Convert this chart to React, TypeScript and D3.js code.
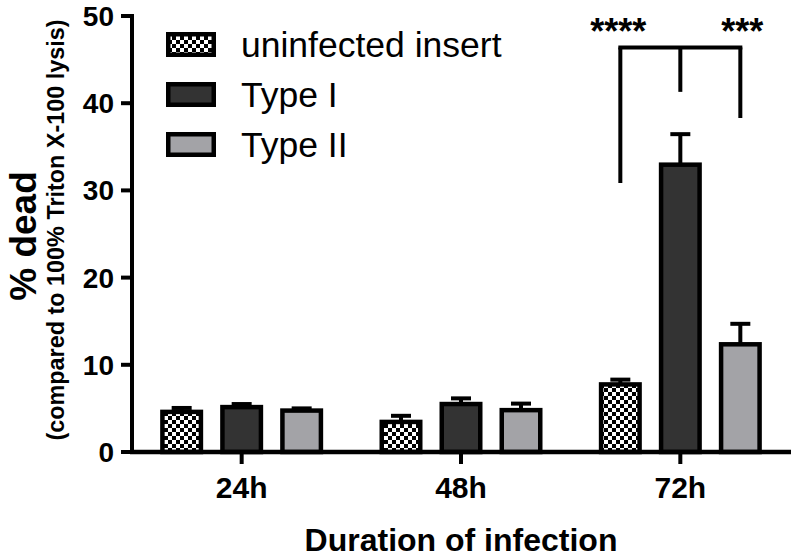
import React from "react";
import * as d3 from "d3";

const groups = ["24h", "48h", "72h"];
const seriesNames = ["uninfected insert", "Type I", "Type II"];
const uninfectedMeans = [4.6, 3.45, 7.75];
const uninfectedErr = [0.45, 0.7, 0.55];
const typeIMeans = [5.15, 5.5, 32.95];
const typeIErr = [0.35, 0.65, 3.5];
const typeIIMeans = [4.75, 4.8, 12.35];
const typeIIErr = [0.25, 0.75, 2.35];
const yTicks = [0, 10, 20, 30, 40, 50];

// significance bracket (72h): top level and end levels for each arm, plus stars
const bracketGroup = "72h";
const bracketTop = 46.4;
const bracketEnds = [30.85, 41.3, 38.3];
const starLabels = ["****", "***"];

const W = 793;
const H = 559;
const FONT = "'Liberation Sans', Arial, Helvetica, sans-serif";

export default function App() {
  const y = d3.scaleLinear().domain([0, 50]).range([452, 16]);
  const x0 = d3.scaleBand<string>().domain(groups).range([132, 790]).padding(0);
  const x1 = d3.scaleBand<string>().domain(seriesNames).range([-90, 90]).padding(0);

  const means = [uninfectedMeans, typeIMeans, typeIIMeans];
  const errs = [uninfectedErr, typeIErr, typeIIErr];
  const fills = ["url(#checker)", "#333333", "#a3a3a7"];

  const barW = 38.5;
  const sw = 4.5;
  const center = (g: string, s: string) =>
    (x0(g) as number) + x0.bandwidth() / 2 + (x1(s) as number) + x1.bandwidth() / 2;

  const bars: React.ReactNode[] = [];
  groups.forEach((g, gi) => {
    seriesNames.forEach((s, si) => {
      const cx = center(g, s);
      const v = means[si][gi];
      const e = errs[si][gi];
      bars.push(
        <g key={g + s}>
          <line x1={cx} x2={cx} y1={y(v)} y2={y(v + e)} stroke="#000" strokeWidth={4} />
          <line x1={cx - 10} x2={cx + 10} y1={y(v + e)} y2={y(v + e)} stroke="#000" strokeWidth={4} />
          <rect
            x={cx - barW / 2}
            y={y(v)}
            width={barW}
            height={y(0) - y(v)}
            fill={fills[si]}
            stroke="#000"
            strokeWidth={sw}
          />
        </g>
      );
    });
  });

  const bx = seriesNames.map((s) => center(bracketGroup, s));

  return (
    <svg
      width={W}
      height={H}
      viewBox={`0 0 ${W} ${H}`}
      style={{ position: "absolute", left: 0, top: 0, background: "#fff" }}
      fontFamily={FONT}
    >
      <defs>
        <pattern id="checker" patternUnits="userSpaceOnUse" width={8} height={8}>
          <rect x={0} y={0} width={8} height={8} fill="#fff" />
          <rect x={0} y={0} width={4} height={4} fill="#000" />
          <rect x={4} y={4} width={4} height={4} fill="#000" />
        </pattern>
      </defs>
      <rect x={0} y={0} width={W} height={H} fill="#fff" />

      {bars}

      {/* axes */}
      <line x1={132} x2={132} y1={y(50) - 2} y2={y(0) + 2} stroke="#000" strokeWidth={4} />
      <line x1={130} x2={791} y1={y(0)} y2={y(0)} stroke="#000" strokeWidth={4.5} />
      {yTicks.map((t) => (
        <g key={t}>
          <line x1={121} x2={132} y1={y(t)} y2={y(t)} stroke="#000" strokeWidth={4} />
          <text
            x={114}
            y={y(t)}
            dy="0.36em"
            textAnchor="end"
            fontSize={28}
            fontWeight="bold"
          >
            {t}
          </text>
        </g>
      ))}
      {groups.map((g) => {
        const cx = (x0(g) as number) + x0.bandwidth() / 2;
        return (
          <g key={g}>
            <line x1={cx} x2={cx} y1={y(0)} y2={464} stroke="#000" strokeWidth={4} />
            <text x={cx} y={498} textAnchor="middle" fontSize={30} fontWeight="bold">
              {g}
            </text>
          </g>
        );
      })}

      {/* axis titles */}
      <text x={461} y={551} textAnchor="middle" fontSize={32} fontWeight="bold">
        Duration of infection
      </text>
      <text
        transform="translate(36,236) rotate(-90)"
        textAnchor="middle"
        fontSize={37}
        fontWeight="bold"
      >
        % dead
      </text>
      <text
        transform="translate(64,230) rotate(-90)"
        textAnchor="middle"
        fontSize={23.4}
        fontWeight="bold"
      >
        (compared to 100% Triton X-100 lysis)
      </text>

      {/* legend */}
      {seriesNames.map((s, i) => (
        <g key={s}>
          <rect
            x={168.25}
            y={34.25 + i * 50}
            width={45.5}
            height={20.5}
            fill={fills[i]}
            stroke="#000"
            strokeWidth={sw}
          />
          <text x={241} y={57 + i * 50} fontSize={35.5}>
            {s}
          </text>
        </g>
      ))}

      {/* significance bracket */}
      <g stroke="#000" strokeWidth={4} fill="none">
        <line x1={bx[0] - 2} x2={bx[2] + 2} y1={y(bracketTop)} y2={y(bracketTop)} />
        {bx.map((xx, i) => (
          <line key={i} x1={xx} x2={xx} y1={y(bracketTop)} y2={y(bracketEnds[i])} />
        ))}
      </g>
      <text x={bx[0] - 2} y={44} textAnchor="middle" fontSize={36} fontWeight="bold">
        {starLabels[0]}
      </text>
      <text x={bx[2] + 2} y={44} textAnchor="middle" fontSize={36} fontWeight="bold">
        {starLabels[1]}
      </text>
    </svg>
  );
}
